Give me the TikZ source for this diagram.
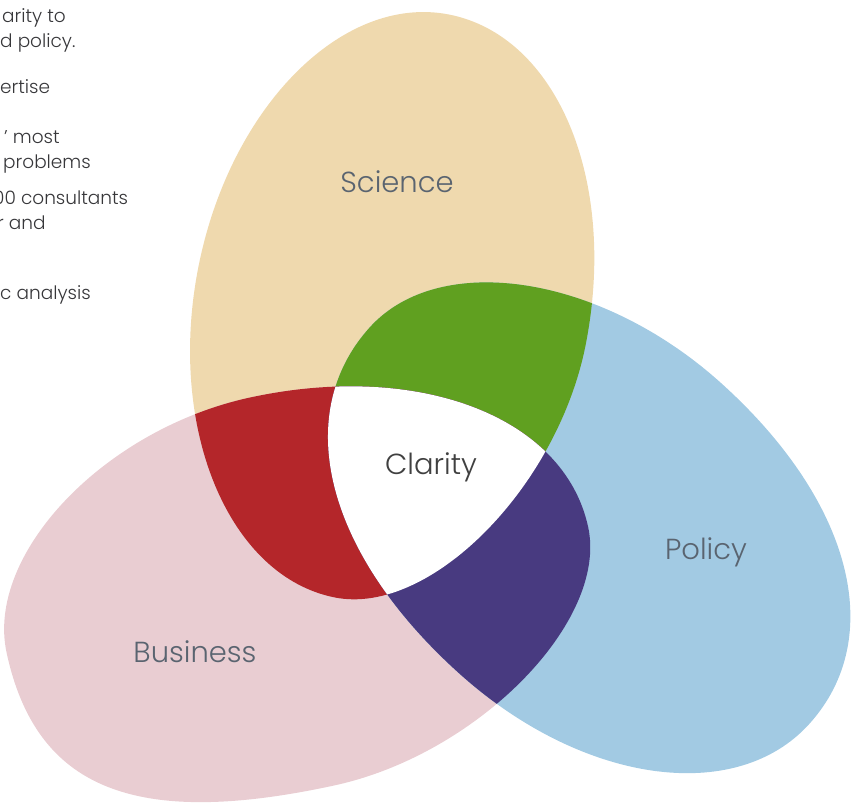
\documentclass[tikz,border=0pt]{standalone}
\usepackage{fontspec}
\newfontfamily\labelfont{Poppins Light}

\definecolor{sciencetan}{RGB}{239,217,174}
\definecolor{businesspink}{RGB}{233,205,210}
\definecolor{policyblue}{RGB}{162,202,227}
\definecolor{overlapgreen}{RGB}{96,160,32}
\definecolor{overlapred}{RGB}{180,38,42}
\definecolor{overlappurple}{RGB}{72,58,128}
\definecolor{labelgray}{RGB}{90,100,112}
\definecolor{textgray}{RGB}{55,55,58}

% egg outline: radii right, down, left, up, then the bulge of each quarter
\newcommand{\blob}[8]{%
  (#1,0) .. controls (#1,#5*#2) and (#5*#1,#2) .. (0,#2)
  .. controls (-#6*#3,#2) and (-#3,#6*#2) .. (-#3,0)
  .. controls (-#3,-#7*#4) and (-#7*#3,-#4) .. (0,-#4)
  .. controls (#8*#1,-#4) and (#1,-#8*#4) .. cycle}
\newcommand{\sciencearea}{\blob{197.5}{297}{197.5}{297}{0.49}{0.55}{0.55}{0.56}}
\newcommand{\businessarea}{\blob{303}{199}{292}{198}{0.485}{0.70}{0.51}{0.57}}
\newcommand{\policyarea}{\blob{294}{197}{298}{194}{0.56}{0.6}{0.54}{0.6}}

\tikzset{
  science frame/.style={shift={(392,306)}, rotate=-11},
  business frame/.style={shift={(292,591)}, rotate=12.2},
  policy frame/.style={shift={(591,527)}, rotate=-42},
  field/.style={font=\labelfont\fontsize{29}{34}\selectfont, text=labelgray},
  side/.style={font=\labelfont\fontsize{18.5}{22}\selectfont, text=textgray, anchor=base west, inner sep=0pt}
}

\begin{document}
\begin{tikzpicture}[x=1pt,y=-1pt]
  \useasboundingbox (0,0) rectangle (857,804);
  \clip (0,0) rectangle (857,804);

  % fields
  \fill[sciencetan, science frame] \sciencearea;
  \fill[businesspink, business frame] \businessarea;
  \fill[policyblue, policy frame] \policyarea;

  % two at a time
  \begin{scope}
    \clip[science frame] \sciencearea;
    \fill[overlapgreen, policy frame] \policyarea;
    \fill[overlapred, business frame] \businessarea;
  \end{scope}
  \begin{scope}
    \clip[business frame] \businessarea;
    \fill[overlappurple, policy frame] \policyarea;
  \end{scope}

  % all three
  \begin{scope}
    \clip[science frame] \sciencearea;
    \clip[business frame] \businessarea;
    \fill[white, policy frame] \policyarea;
  \end{scope}

  \node[field] (science) at (397,182) {Science};
  \node[field] (business) at (195,652) {Business};
  \node[field] (policy) at (706,552) {Policy};
  \node[field, text=black!75] (clarity) at (431,467) {Clarity};

  % copy running in from the left margin
  \node[side] (line1) at (2,22) {arity to};
  \node[side] (line2) at (0,47) {d policy.};
  \node[side] (line3) at (0,93) {ertise};
  \node[side] (line4) at (4,143) {’ most};
  \node[side] (line5) at (3,168) {problems};
  \node[side] (line6) at (-7,204) {00 consultants};
  \node[side] (line7) at (-3,229) {r and};
  \node[side] (line8) at (0,299) {c analysis};
\end{tikzpicture}
\end{document}
